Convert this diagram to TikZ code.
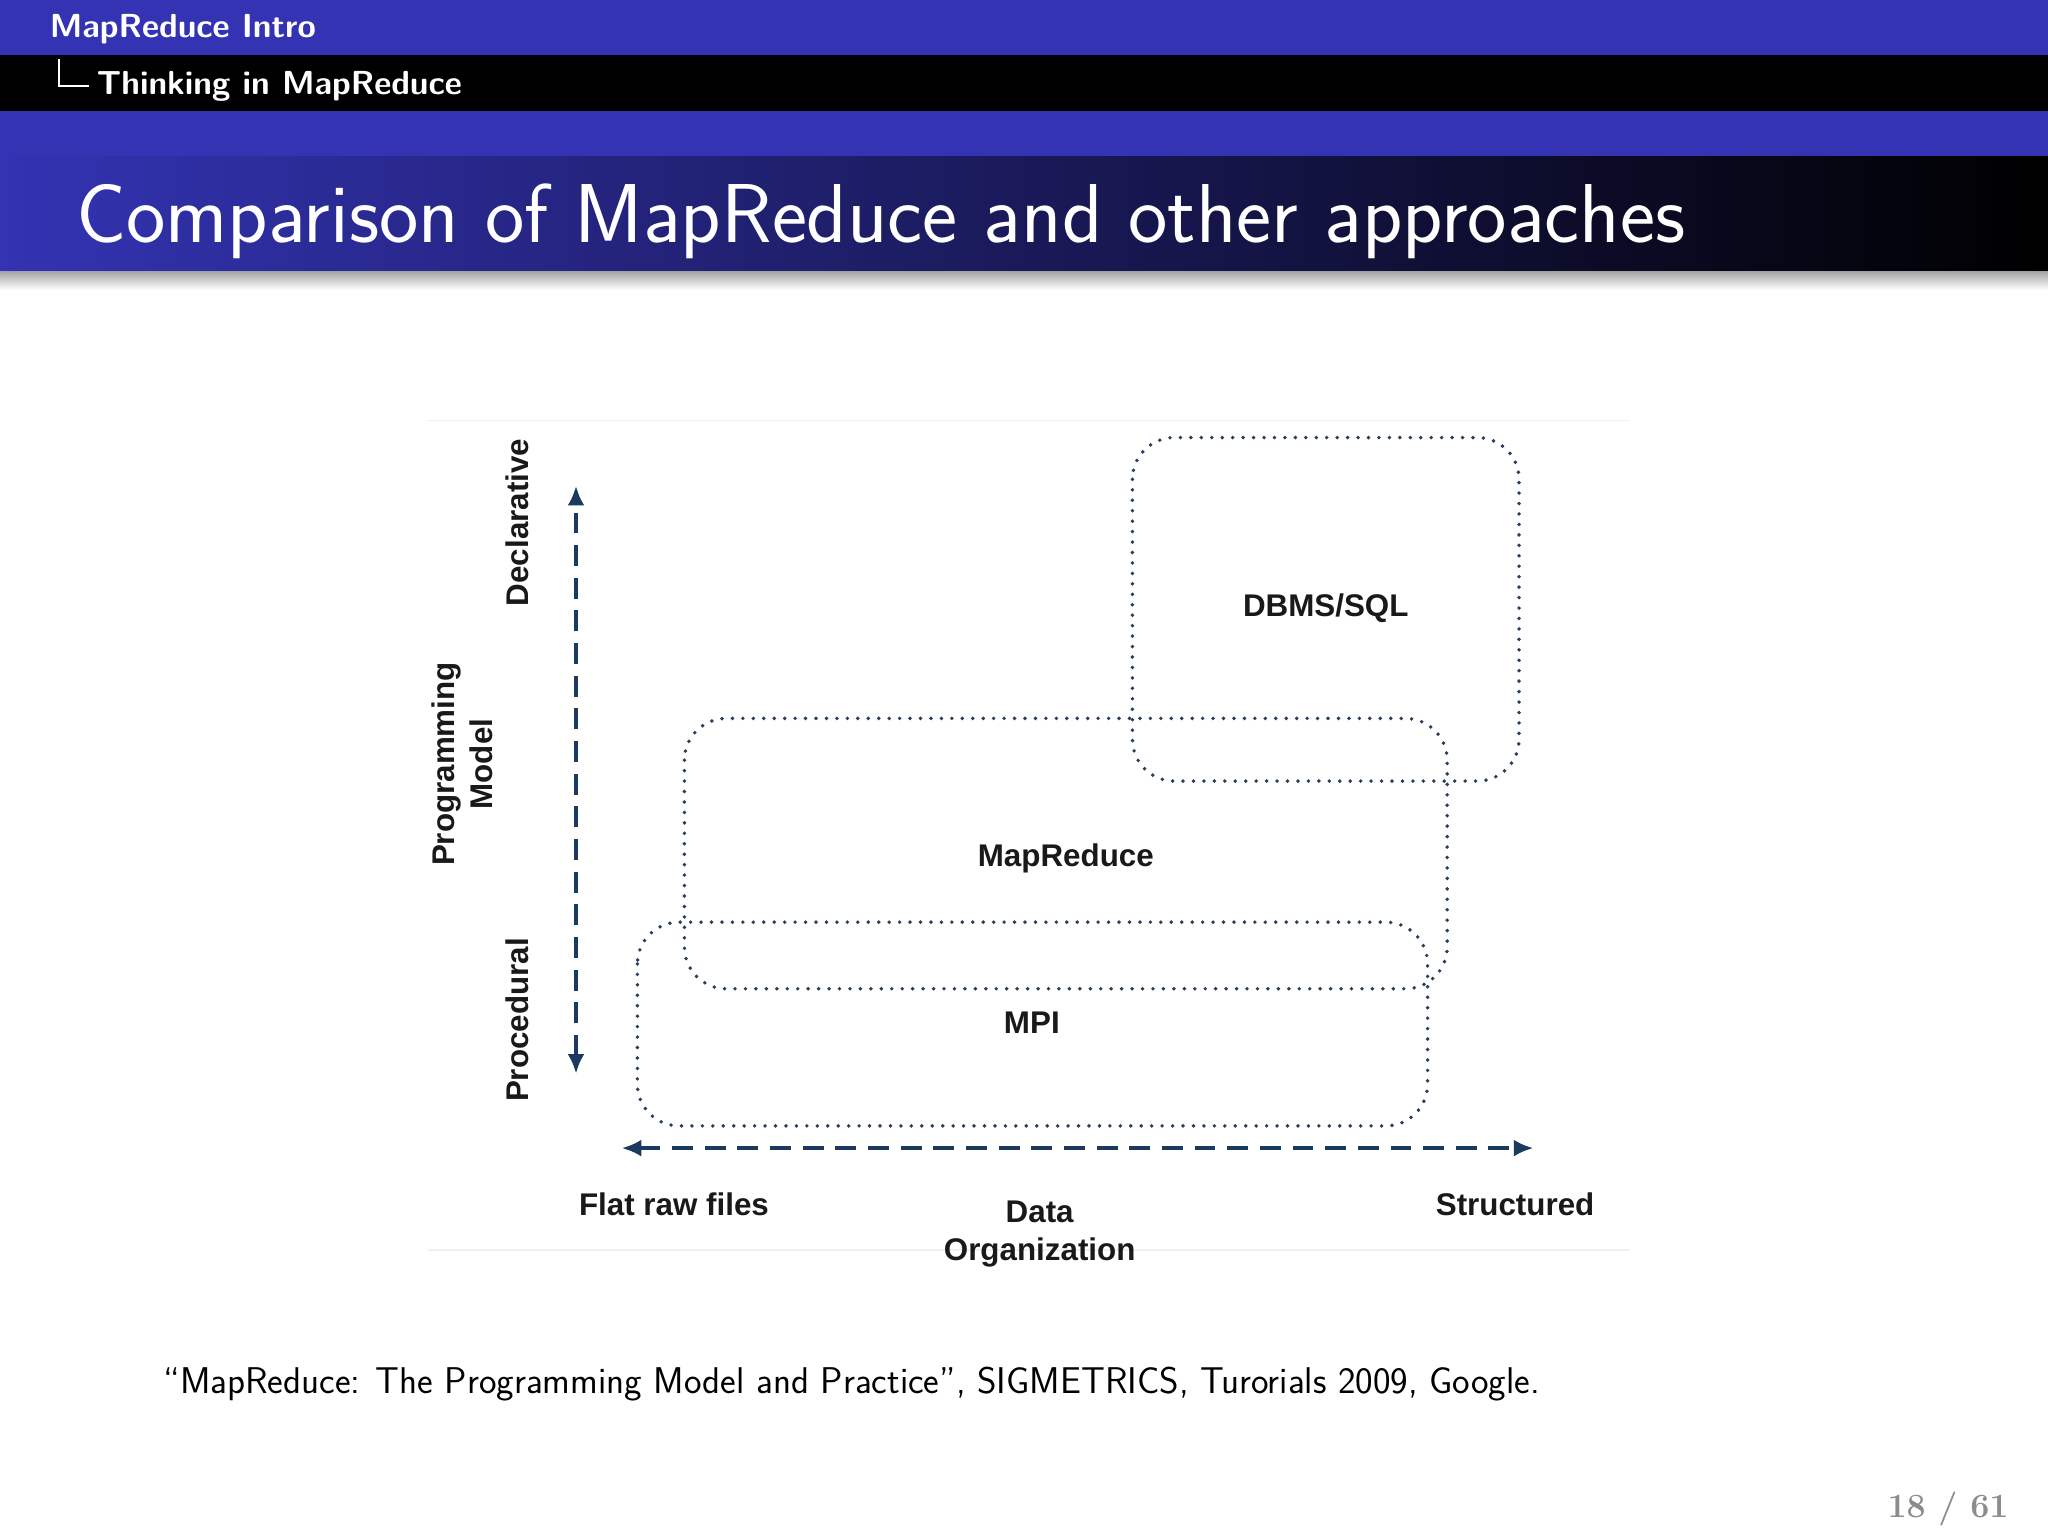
\documentclass[tikz,border=0pt]{standalone}
\usepackage{fontspec}
\newfontfamily\arial{Liberation Sans}
\usetikzlibrary{arrows.meta}
\definecolor{bblue}{HTML}{3333B3}
\definecolor{navy}{HTML}{1B3A5E}
\definecolor{dotc}{HTML}{2A3F5F}
\tikzset{
 box/.style={draw=dotc,line width=3pt,dash pattern=on 0pt off 8pt,line cap=round,rounded corners=32pt},
 axis/.style={draw=navy,line width=2.8pt,dash pattern=on 16pt off 9pt,{Latex[length=15pt,width=13pt]}-{Latex[length=15pt,width=13pt]}},
 lab/.style={font=\arial\bfseries\fontsize{24}{29}\selectfont,text=black!90,align=center,inner sep=0pt}
}
\begin{document}
\begin{tikzpicture}[x=1pt,y=-1pt]
\useasboundingbox (0,0) rectangle (1568,1176);
\fill[white] (0,0) rectangle (1568,1176);
% header
\fill[bblue] (0,0) rectangle (1568,42);
\fill[black] (0,42) rectangle (1568,85);
\fill[bblue] (0,85) rectangle (1568,120);
\shade[left color=bblue,right color=black] (0,120) rectangle (1568,208);
\shade[top color=black!35,bottom color=white] (0,208) rectangle (1568,222);
\node[anchor=base west,text=white,font=\sffamily\bfseries\fontsize{25.5}{30}\selectfont,inner sep=0pt] (h1) at (38,29) {MapReduce Intro};
\draw[white,line width=1.2pt] (45,45) |- (68,66);
\node[anchor=base west,text=white,font=\sffamily\bfseries\fontsize{25.5}{30}\selectfont,inner sep=0pt] (h2) at (74,72) {Thinking in MapReduce};
\node[anchor=base west,text=white,font=\sffamily\fontsize{64}{70}\selectfont,inner sep=0pt] (title) at (58,186) {Comparison of MapReduce and other approaches};
% faint frame lines
\draw[black!6,line width=1pt] (328,322) -- (1248,322);
\draw[black!6,line width=1pt] (328,957) -- (1248,957);
% boxes
\draw[box] (867,335) rectangle (1163,598);
\draw[box] (524,550) rectangle (1108,757);
\draw[box] (488,706) rectangle (1093,862);
% axes
\coordinate (vt) at (441,372);
\coordinate (vb) at (441,822);
\draw[axis] (vb) -- (vt);
\coordinate (hl) at (476,879);
\coordinate (hr) at (1174,879);
\draw[axis] (hl) -- (hr);
% labels
\node[lab,rotate=90] (decl) at (396,400) {Declarative};
\node[lab,rotate=90] (proc) at (396,781) {Procedural};
\node[lab,rotate=90] (pm) at (354,585) {Programming\\Model};
\node[lab] (dbms) at (1015,466) {DBMS/SQL};
\node[lab] (mr) at (816,657) {MapReduce};
\node[lab] (mpi) at (790,783) {MPI};
\node[lab] (flat) at (516,922) {Flat raw files};
\node[lab] (data) at (796,945) {Data\\Organization};
\node[lab] (struct) at (1160,922) {Structured};
% citation
\node[anchor=base west,font=\sffamily\fontsize{28.5}{34}\selectfont,inner sep=0pt] (cite) at (125,1067) {``MapReduce: The Programming Model and Practice'', SIGMETRICS, Turorials 2009, Google.};
\node[anchor=base east,text=black!45,font=\bfseries\fontsize{26}{30}\selectfont,inner sep=0pt] (pg) at (1538,1162) {18 / 61};
\end{tikzpicture}
\end{document}
